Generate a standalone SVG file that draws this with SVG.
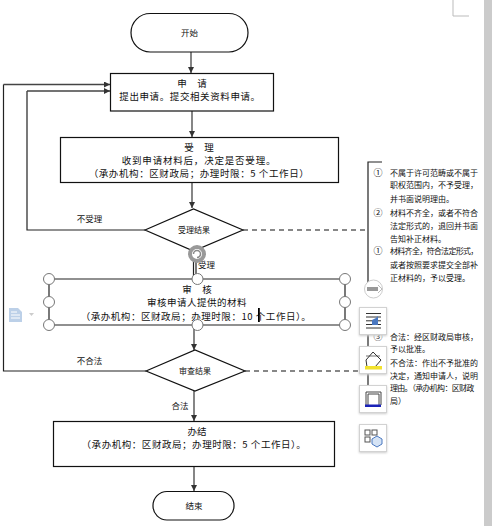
<svg xmlns="http://www.w3.org/2000/svg" width="492" height="526" viewBox="0 0 492 526">
<style>
text{font-family:"Noto Sans CJK SC","Noto Sans",sans-serif;fill:#111;font-size:9.5px;text-anchor:middle}
.box{fill:#fff;stroke:#111;stroke-width:1.2}
.line{fill:none;stroke:#222;stroke-width:1.2}
.arrow{fill:none;stroke:#444;stroke-width:1.3;marker-end:url(#ah)}
.dash{fill:none;stroke:#111;stroke-width:1.1;stroke-dasharray:5 4}
.small{font-size:8px}
.note{font-size:8px;text-anchor:start}
.tight{letter-spacing:-.7px}
.num{font-size:9px}
.h{fill:#fff;stroke:#777;stroke-width:1}
.btn{fill:#fff;stroke:#d2d2d2;stroke-width:1;filter:drop-shadow(0 1px 1px #ccc)}
</style>
<defs>
<marker id="ah" markerUnits="userSpaceOnUse" markerWidth="7" markerHeight="6" refX="6" refY="3" orient="auto"><path d="M0 0L6 3L0 6z" fill="#333"/></marker>
</defs>
<rect width="492" height="526" fill="#fff"/>
<rect x="484" y="0" width="8" height="526" fill="#cbcbcb"/>
<path d="M453 0V16H469" fill="none" stroke="#bbb" stroke-width="1"/>

<g id="connectors">
<path class="arrow" d="M191 52V73"/>
<path class="arrow" d="M192 111V137"/>
<path class="arrow" d="M192 182V208"/>
<path class="line" d="M145 230H27V91"/>
<path class="arrow" d="M27 91H110"/>
<path class="line" d="M146 371H3.5V84.500"/>
<path class="arrow" d="M3.500 84.500H110"/>
<path class="line" d="M193.500 250V279M196 258V279"/>
<path class="arrow" d="M194 325V350"/>
<path class="arrow" d="M194 391V421"/>
<path class="arrow" d="M194 466V491"/>
<path class="dash" d="M243 230H368"/>
<path class="dash" d="M245 371H358"/>
<path class="line" d="M382 162H368V289"/>
<path class="line" d="M368 332V395"/>
</g>

<g id="start"><rect class="box" x="131" y="13.500" width="117" height="38.500" rx="19.200"/><text x="189.500" y="36" style="font-size:8.500px">开始</text></g>
<g id="apply"><rect class="box" x="110.500" y="73.500" width="163" height="37.500"/><text x="192" y="87" xml:space="preserve" style="font-size:9.500px">申     请</text><text x="190" y="100" style="letter-spacing:.6px">提出申请。提交相关资料申请。</text></g>
<g id="accept"><rect class="box" x="60.500" y="137.500" width="278" height="45"/><text x="199" y="151" xml:space="preserve">受     理</text><text x="199" y="164" style="letter-spacing:.8px">收到申请材料后&#65292;决定是否受理。</text><text x="199" y="177" style="letter-spacing:.6px">&#65288;承办机构&#65306;区财政局&#65307;办理时限&#65306;5 个工作日&#65289;</text></g>
<g id="accept-result"><path class="box" d="M145 230L193.500 209L243 230L193.500 251z"/><text class="small" x="194" y="233">受理结果</text></g>
<text x="89.500" y="222" style="font-size:8.500px">不受理</text>
<text x="206.500" y="268" style="font-size:8.500px">受理</text>
<g id="rotate"><circle cx="197" cy="254" r="7" fill="#fff" stroke="#999" stroke-width="4"/><path d="M193.500 254a3.500 3.500 0 1 1 3.500 3.500" fill="none" stroke="#888" stroke-width="1.500"/></g>

<g id="review">
<path class="line" d="M49 279H345V325H49z"/>
<text x="197" y="293" xml:space="preserve">审     核</text>
<text x="197" y="306" style="letter-spacing:.5px">审核申请人提供的材料</text>
<text x="196" y="320" style="letter-spacing:.55px">&#65288;承办机构&#65306;区财政局&#65307;办理时限&#65306;10 个工作日&#65289;。</text>
<rect x="258" y="308" width="1.800" height="14" fill="#000"/>
<circle class="h" cx="49" cy="279" r="5.500"/><circle class="h" cx="49" cy="302" r="5.500"/><circle class="h" cx="49" cy="325" r="5.500"/>
<circle class="h" cx="197.500" cy="279" r="5.500"/><circle class="h" cx="197.500" cy="325" r="5.500"/>
<circle class="h" cx="345" cy="279" r="5.500"/><circle class="h" cx="345" cy="302" r="5.500"/><circle class="h" cx="345" cy="325" r="5.500"/>
</g>
<g id="doc-icon"><path d="M9 308H18L22 312V322H9z" fill="#bcd0e8"/><path d="M11 312H17M11 315H20M11 318H20" stroke="#fff" stroke-width="1"/><path d="M29 313H34L31.500 316z" fill="#ccc"/></g>

<g id="review-result"><path class="box" d="M146 371L195 350L245 371L195 391z"/><text class="small" x="195" y="374">审查结果</text></g>
<text x="89.500" y="364" style="font-size:8.500px">不合法</text>
<text x="180" y="409" style="font-size:8.500px">合法</text>

<g id="finish"><rect class="box" x="53.500" y="421.500" width="281" height="45"/><text x="197" y="435">办结</text><text x="194" y="448" style="letter-spacing:.55px">&#65288;承办机构&#65306;区财政局&#65307;办理时限&#65306;5 个工作日&#65289;。</text></g>
<g id="end"><rect class="box" x="153" y="491.500" width="81" height="28.500" rx="14"/><text x="194" y="509" style="font-size:8.500px">结束</text></g>

<g id="note-1">
<text class="num" x="378" y="176">①</text><text class="note" x="390" y="176">不属于许可范畴或不属于</text>
<text class="note" x="390" y="188">职权范围内&#65292;不予受理&#65292;</text>
<text class="note" x="390" y="202">并书面说明理由。</text>
<text class="num" x="378" y="216">②</text><text class="note" x="390" y="216">材料不齐全&#65292;或者不符合</text>
<text class="note" x="390" y="229">法定形式的&#65292;退回并书面</text>
<text class="note" x="390" y="242">告知补正材料。</text>
<text class="num" x="378" y="254">①</text><text class="note tight" x="390" y="254">材料齐全&#65292;符合法定形式&#65292;</text>
<text class="note" x="390" y="268">或者按照要求提交全部补</text>
<text class="note" x="390" y="281">正材料的&#65292;予以受理。</text>
</g>
<g id="note-2">
<text class="num" x="378" y="340">③</text><text class="note" x="390" y="340">合法&#65306;经区财政局审核&#65292;</text>
<text class="note" x="390" y="352">予以批准。</text>
<text class="note" x="390" y="366">不合法&#65306;作出不予批准的</text>
<text class="note" x="390" y="379">决定&#65292;通知申请人&#65292;说明</text>
<text class="note tight" x="390" y="391">理由。&#65288;承办机构&#65306;区财政</text>
<text class="note" x="390" y="404">局&#65289;</text>
</g>

<g id="toolbar">
<circle cx="373.500" cy="289" r="9" fill="#fff" stroke="#ccc"/><path d="M367 287H378V291H367z" fill="#999"/><path d="M378 285L382 289L378 293" fill="none" stroke="#bbb"/>
<rect class="btn" x="359.500" y="307.500" width="27" height="27"/><path d="M366 313.500H381M366 317H381M366 328H381M366 324.500H381" stroke="#333"/><path d="M366 320.800H372M376 320.800H381" stroke="#333"/><path d="M372 325V320L376 318L378 316V325z" fill="#4a78c0"/>
<rect class="btn" x="359.500" y="346.500" width="27" height="27"/><path d="M366 360L373 352L381 360L375 367H367z" fill="#fff" stroke="#333"/><path d="M366 356H380" stroke="#333" stroke-width=".7"/><rect x="365" y="366" width="17" height="3.500" fill="#f2e22e"/>
<rect class="btn" x="359.500" y="385.500" width="27" height="27"/><path d="M366 405V392H381V405M368 405V394H379V405" fill="none" stroke="#444"/><rect x="365" y="404.500" width="16" height="2.500" fill="#1a22b8"/>
<rect class="btn" x="359.500" y="424.500" width="27" height="27"/><rect x="365" y="430" width="5" height="5" fill="none" stroke="#555"/><rect x="372" y="430" width="5" height="5" fill="none" stroke="#555"/><rect x="365" y="437" width="5" height="5" fill="none" stroke="#555"/><path d="M377 436L382 439V444L377 447L372 444V439z" fill="#d5e3f5" stroke="#4a78c0"/>
</g>
</svg>
